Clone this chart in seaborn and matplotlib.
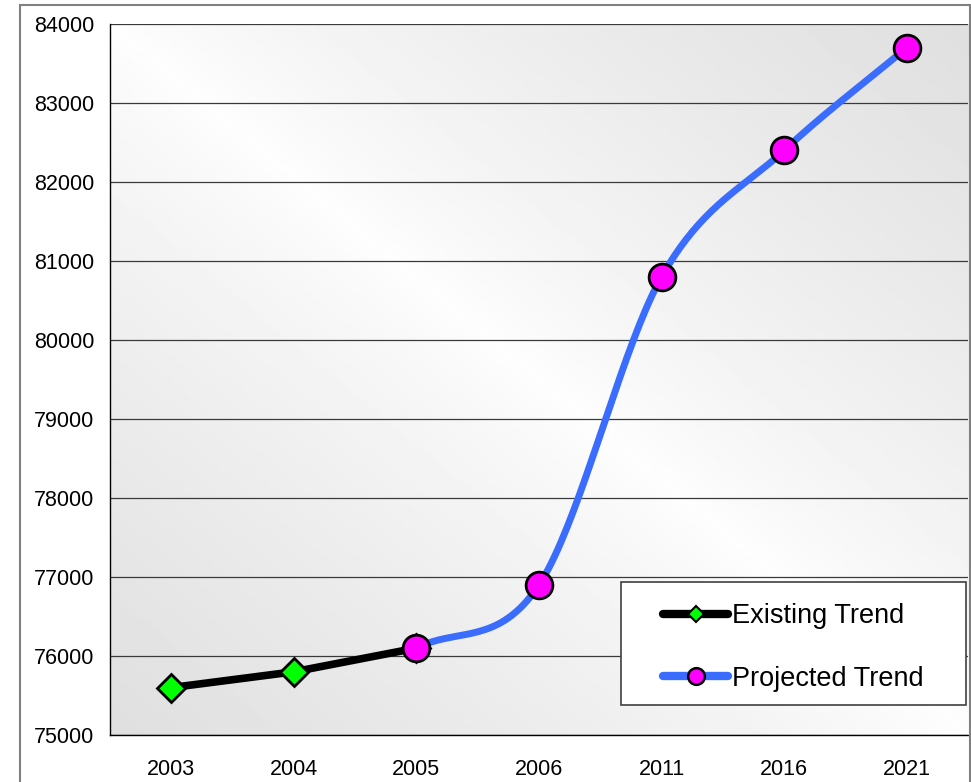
import numpy as np
import pandas as pd
import matplotlib
matplotlib.use("Agg")
import matplotlib.pyplot as plt
from matplotlib.lines import Line2D
from matplotlib.patches import Rectangle
import seaborn as sns

# category labels on the x axis
years = ["2003", "2004", "2005", "2006", "2011", "2016", "2021"]
# values
existing_years = ["2003", "2004", "2005"]
existing_vals = [75600, 75800, 76100]
projected_years = ["2005", "2006", "2011", "2016", "2021"]
projected_vals = [76100, 76900, 80800, 82400, 83700]
y_ticks = list(range(75000, 84001, 1000))


def smooth_path(xs, ys, steps=40):
    # catmull-rom curve through the points, like Excel's "smoothed line"
    xs = np.asarray(xs, float)
    ys = np.asarray(ys, float)
    px = np.concatenate([[2 * xs[0] - xs[1]], xs, [2 * xs[-1] - xs[-2]]])
    py = np.concatenate([[2 * ys[0] - ys[1]], ys, [2 * ys[-1] - ys[-2]]])
    out_x, out_y = [], []
    t = np.linspace(0, 1, steps)
    for i in range(1, len(px) - 2):
        for arr, out in ((px, out_x), (py, out_y)):
            p0, p1, p2, p3 = arr[i - 1], arr[i], arr[i + 1], arr[i + 2]
            out.extend(0.5 * ((2 * p1) + (-p0 + p2) * t
                              + (2 * p0 - 5 * p1 + 4 * p2 - p3) * t ** 2
                              + (-p0 + 3 * p1 - 3 * p2 + p3) * t ** 3))
    return np.array(out_x), np.array(out_y)


sns.set_theme(style="white")
plt.rcParams["font.family"] = ["Liberation Sans", "DejaVu Sans"]
plt.rcParams["text.color"] = "black"

fig = plt.figure(figsize=(9.71, 7.82), dpi=100)
fig.patch.set_facecolor("white")
# outer chart border
fig.patches.append(Rectangle((20 / 971, -0.01), 950 / 971, 1 - 5 / 782 + 0.01,
                             transform=fig.transFigure, fill=False,
                             edgecolor="#808080", lw=1.5, zorder=0))

ax = fig.add_axes([110 / 971, 1 - 735 / 782, 858 / 971, 711 / 782])

# diagonal gradient fill of the plot area
u = np.linspace(0, 1, 300)
v = np.linspace(1, 0, 300)
U, V = np.meshgrid(u, v)
d = np.abs(U + V - 1)
shade = 0.995 - 0.12 * d ** 0.8
ax.imshow(shade, cmap="gray", vmin=0, vmax=1, extent=(-0.5, 6.5, 75000, 84000),
          aspect="auto", zorder=0, interpolation="bilinear")

x_pos = {y: i for i, y in enumerate(years)}
df_exist = pd.DataFrame({"x": [x_pos[y] for y in existing_years], "val": existing_vals})
df_proj = pd.DataFrame({"x": [x_pos[y] for y in projected_years], "val": projected_vals})

sns.lineplot(data=df_exist, x="x", y="val", color="black", lw=5.5, ax=ax, zorder=3,
             marker="D", markersize=14, markerfacecolor="#00ff00",
             markeredgecolor="black", markeredgewidth=2)

sx, sy = smooth_path(df_proj["x"], df_proj["val"])
ax.plot(sx, sy, color="#3a6cff", lw=5, zorder=4, solid_capstyle="round")
sns.scatterplot(data=df_proj, x="x", y="val", ax=ax, zorder=5, s=370,
                color="#ff00ff", edgecolor="black", linewidth=2)

ax.set_xlim(-0.5, 6.5)
ax.set_ylim(75000, 84000)
ax.set_yticks(y_ticks)
ax.set_yticklabels([str(t) for t in y_ticks], fontsize=15.5)
ax.set_xticks(range(len(years)))
ax.set_xticklabels(years, fontsize=15.5)
ax.set_xticks(np.arange(-0.5, 7, 1), minor=True)
ax.tick_params(axis="x", which="major", length=0, pad=17, labelcolor="black")
ax.tick_params(axis="x", which="minor", length=7, width=1, color="black", direction="out")
ax.tick_params(axis="y", length=7, width=1, color="black", direction="out", pad=4.5,
               labelcolor="black")
ax.yaxis.grid(True, color="#3a3a3a", lw=0.9)
for gl in ax.get_ygridlines():
    gl.set_zorder(1)
ax.set_xlabel("")
ax.set_ylabel("")
for side in ["top", "right"]:
    ax.spines[side].set_visible(False)
ax.spines["left"].set_color("black")
ax.spines["bottom"].set_color("black")
ax.spines["left"].set_linewidth(1)
ax.spines["bottom"].set_linewidth(1)

# legend box drawn separately so it matches the original's wide padding
box = Rectangle((621 / 971, 1 - 705 / 782), 345 / 971, 123 / 782,
                transform=fig.transFigure, facecolor="white",
                edgecolor="#404040", lw=1.2, zorder=20)
fig.patches.append(box)

handles = [
    Line2D([], [], color="black", lw=6, marker="D", markersize=8.5,
           markerfacecolor="#00ff00", markeredgecolor="black", markeredgewidth=1.5,
           solid_capstyle="round"),
    Line2D([], [], color="#3a6cff", lw=6, marker="o", markersize=12,
           markerfacecolor="#ff00ff", markeredgecolor="black", markeredgewidth=1.8,
           solid_capstyle="round"),
]
leg = fig.legend(handles, ["Existing Trend", "Projected Trend"], fontsize=19.5,
                 loc="center left", bbox_to_anchor=(663 / 971, 1 - 647.5 / 782),
                 bbox_transform=fig.transFigure, frameon=False,
                 handlelength=2.4, handletextpad=0.15,
                 labelspacing=1.35, borderpad=0, borderaxespad=0)
for txt in leg.get_texts():
    txt.set_color("black")
leg.set_zorder(30)

fig.savefig("out.png", dpi=100)
